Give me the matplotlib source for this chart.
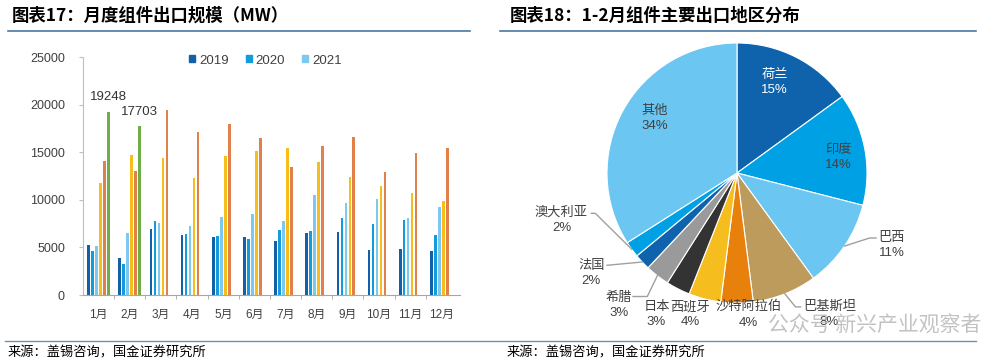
import numpy as np
import matplotlib.pyplot as plt
from matplotlib.patches import Patch

plt.rcParams['font.family'] = ['Liberation Sans', 'Noto Sans CJK SC', 'DejaVu Sans']

# ---- data: monthly module exports (MW)
months = ['1月', '2月', '3月', '4月', '5月', '6月', '7月', '8月', '9月', '10月', '11月', '12月']
exp_2019 = [5300, 3900, 6900, 6300, 6100, 6100, 5700, 6500, 6600, 4700, 4800, 4600]
exp_2020 = [4600, 3300, 7800, 6400, 6200, 5900, 6800, 6700, 8100, 7500, 7900, 6300]
exp_2021 = [5100, 6500, 7600, 7200, 8200, 8500, 7800, 10500, 9700, 10100, 8100, 9200]
exp_2022 = [11800, 14700, 14400, 12300, 14600, 15100, 15400, 14000, 12400, 11500, 10700, 9900]
exp_2023 = [14100, 13000, 19400, 17100, 18000, 16500, 13400, 15600, 16600, 12900, 14900, 15400]
exp_2024 = [19248, 17703]
legend_years = ['2019', '2020', '2021']

# ---- data: Jan-Feb export destinations (%)
regions = ['荷兰', '印度', '巴西', '巴基斯坦', '沙特阿拉伯', '西班牙', '日本', '希腊', '法国', '澳大利亚', '其他']
shares = [15, 14, 11, 8, 4, 4, 3, 3, 2, 2, 34]

W, H = 981, 364
fx = lambda px: px / W
fy = lambda py: 1 - py / H

fig = plt.figure(figsize=(9.81, 3.64), dpi=100)

# titles, rules, footer
fig.text(fx(12), fy(16), '图表17：月度组件出口规模（MW）', fontsize=12.5, fontweight='bold',
         family=['Noto Sans CJK SC'], va='center', ha='left')
fig.text(fx(510), fy(16), '图表18：1-2月组件主要出口地区分布', fontsize=12.5, fontweight='bold',
         family=['Noto Sans CJK SC'], va='center', ha='left')
rule = '#4a78a8'
fig.add_artist(plt.Line2D([fx(8), fx(470)], [fy(30.5), fy(30.5)], color=rule, lw=1.2))
fig.add_artist(plt.Line2D([fx(500), fx(976)], [fy(30.5), fy(30.5)], color=rule, lw=1.2))
fig.add_artist(plt.Line2D([fx(5), fx(976)], [fy(340.5), fy(340.5)], color='#6d8fb0', lw=1.0))
fig.text(fx(8), fy(353), '来源：盖锡咨询，国金证券研究所', fontsize=9.5, family=['Noto Sans CJK SC'],
         va='center', ha='left')
fig.text(fx(507), fy(353), '来源：盖锡咨询，国金证券研究所', fontsize=9.5, family=['Noto Sans CJK SC'],
         va='center', ha='left')

# ---- bar chart
ax = fig.add_axes([fx(83), fy(295), (460 - 83) / W, (295 - 57) / H])
series = [exp_2019, exp_2020, exp_2021, exp_2022, exp_2023, exp_2024]
colors = ['#135fa8', '#139bdb', '#7cc8ef', '#f7bd1c', '#e0804a', '#71ad47']
pitch, bw = 0.128, 0.085
x = np.arange(1, len(months) + 1)
for i, (vals, c) in enumerate(zip(series, colors)):
    xs = x[:len(vals)] + (i - 2.5) * pitch
    bars = ax.bar(xs, vals, width=bw, color=c, linewidth=0)
    if i == 5:
        for b, v in zip(bars, vals):
            ax.annotate(str(v), (b.get_x() + b.get_width() / 2, v), xytext=(0, 6),
                        textcoords='offset points', ha='center', va='bottom',
                        fontsize=9.5, color='#333333')

ax.set_xlim(0.5, 12.6)
ax.set_ylim(0, 25000)
ax.set_yticks(range(0, 25001, 5000))
ax.set_xticks(x)
ax.set_xticklabels(months)
ax.set_xticks(np.arange(1.5, 12.5, 1), minor=True)
for s in ['top', 'right']:
    ax.spines[s].set_visible(False)
ax.spines['left'].set_color('#bfbfbf')
ax.spines['bottom'].set_color('#a6a6a6')
ax.tick_params(axis='y', length=3, color='#bfbfbf', labelsize=9, labelcolor='#404040', pad=10)
ax.tick_params(axis='x', which='major', length=0, labelsize=8.5, labelcolor='#404040', pad=10)
ax.tick_params(axis='x', which='minor', length=3, color='#a6a6a6')
handles = [Patch(color=c) for c in colors[:3]]
ax.legend(handles, legend_years, loc='center left', bbox_to_anchor=(0.25, 0.985), ncol=3,
          frameon=False, fontsize=9.5, handlelength=0.45, handleheight=0.45,
          handletextpad=0.3, columnspacing=1.3, labelcolor='#404040')

# ---- pie chart (1 unit = 130 px, centre at (737,173))
cx, cy, R = 737, 173, 130
pa = fig.add_axes([fx(500), fy(340), (981 - 500) / W, (340 - 35) / H])
pa.axis('off')
pie_colors = ['#0f63ad', '#00a0e4', '#6cc6f2', '#bd9b5c', '#e8810b', '#f6bd1f',
              '#333333', '#9a9a9a', '#0f63ad', '#00a0e4', '#6cc6f2']
wedges, _ = pa.pie(shares, colors=pie_colors, startangle=90, counterclock=False,
                   wedgeprops=dict(edgecolor='white', linewidth=0.8))
pa.set_xlim(-(cx - 500) / R, (981 - cx) / R)
pa.set_ylim(-(340 - cy) / R, (cy - 35) / R)
pa.set_aspect('auto')

label_pos = [(0.29, 0.70), (0.78, 0.12), (1.19, -0.56), (0.71, -1.09), (0.09, -1.09),
             (-0.36, -1.09), (-0.62, -1.09), (-0.91, -1.02), (-1.12, -0.77),
             (-1.35, -0.36), (-0.63, 0.42)]
label_col = ['white'] + ['#404040'] * 10
# leader lines: elbow points for labels outside the pie
leaders = {2: [(1.02, -0.50), (1.07, -0.50)],
           3: [(0.45, -1.03), (0.49, -1.03)],
           7: [(-0.69, -0.95), (-0.80, -0.95)],
           8: [(-1.00, -0.71)],
           9: [(-1.09, -0.31), (-1.12, -0.31)]}
for i, (w, name, pct) in enumerate(zip(wedges, regions, shares)):
    lx, ly = label_pos[i]
    pa.text(lx, ly, f'{name}\n{pct}%', ha='center', va='center', fontsize=9.5,
            color=label_col[i], linespacing=1.35)
    if i in leaders:
        ang = np.deg2rad((w.theta1 + w.theta2) / 2)
        pts = [(np.cos(ang), np.sin(ang))] + leaders[i]
        pa.plot([p[0] for p in pts], [p[1] for p in pts], color='#a0a0a0', lw=1, clip_on=False)

# watermark overlay
fig.text(fx(768), fy(326), '公众号 新兴产业观察者', fontsize=15, color='#b8b8b8', alpha=0.85,
         family=['Noto Sans CJK SC'], va='center', ha='left')

fig.savefig('out.png', dpi=100)
